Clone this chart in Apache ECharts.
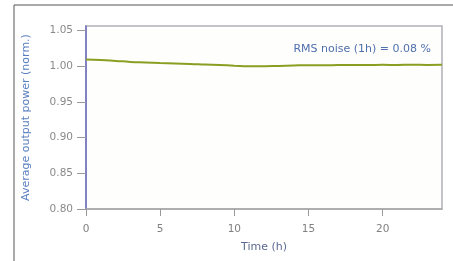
<!DOCTYPE html>
<html>
<head>
<meta charset="utf-8">
<script src="https://cdn.jsdelivr.net/npm/echarts@6/dist/echarts.min.js"></script>
<style>
  html, body { margin: 0; padding: 0; background: #fff; }
  #chart { width: 453px; height: 261px; }
</style>
</head>
<body>
<div id="chart"></div>
<script>
  // time in hours, normalised average output power
  var timeH = [0, 1, 2, 3, 4, 5, 6, 7, 8, 9, 10, 11, 12, 13, 14, 15, 16, 17, 18, 19, 20, 21, 22, 23, 24]
  var power = [1.0092, 1.0085, 1.0072, 1.0058, 1.0050, 1.0042, 1.0035, 1.0030, 1.0022, 1.0014, 1.0005, 0.9998, 0.9997, 1.0002, 1.0008, 1.0012, 1.0010, 1.0014, 1.0016, 1.0013, 1.0017, 1.0015, 1.0018, 1.0016, 1.0018]
  var xTicks = [0, 5, 10, 15, 20]
  var yTicks = [0.80, 0.85, 0.90, 0.95, 1.00, 1.05]
  var noteText = 'RMS noise (1h) = 0.08 %'

  var font = 'DejaVu Sans'
  var chart = echarts.init(document.getElementById('chart'))

  chart.setOption({
    animation: false,
    backgroundColor: '#fff',
    grid: {
      left: 86,
      right: 11,
      top: 26,
      bottom: 52,
      show: true,
      borderColor: '#b0b0b8',
      borderWidth: 1.5,
      backgroundColor: '#fefefc'
    },
    graphic: [
      {
        type: 'polyline',
        shape: { points: [[14, 261], [14, 5], [453, 5]] },
        style: { stroke: '#555', lineWidth: 1, fill: null }
      },
      {
        type: 'text',
        right: 22,
        top: 44,
        style: { text: noteText, font: '11px "DejaVu Sans"', fill: '#4f6fae' }
      }
    ],
    xAxis: {
      type: 'value',
      min: 0,
      max: 24,
      interval: 5,
      name: 'Time (h)',
      nameLocation: 'middle',
      nameGap: 33,
      nameTextStyle: { fontFamily: font, fontSize: 11, color: '#5a6a90' },
      axisLine: { show: true, lineStyle: { color: '#a8a8a8', width: 1.5 } },
      axisTick: { show: true, length: 7, customValues: xTicks, lineStyle: { color: '#999' } },
      axisLabel: { customValues: xTicks, fontFamily: font, fontSize: 10.5, color: '#808080', margin: 15 },
      splitLine: { show: false }
    },
    yAxis: {
      type: 'value',
      min: 0.8,
      max: 1.056,
      interval: 0.05,
      name: 'Average output power (norm.)',
      nameLocation: 'middle',
      nameGap: 54,
      nameTextStyle: { fontFamily: font, fontSize: 11, color: '#5a7fc0' },
      axisLine: { show: true, lineStyle: { color: '#6d6dc0', width: 1.5 } },
      axisTick: { show: true, length: 9, customValues: yTicks, lineStyle: { color: '#999' } },
      axisLabel: {
        customValues: yTicks,
        fontFamily: font,
        fontSize: 10.5,
        color: '#8a8a8a',
        margin: 13,
        formatter: function (v) { return v.toFixed(2) }
      },
      splitLine: { show: false }
    },
    series: [{
      type: 'line',
      data: timeH.map(function (t, i) { return [t, power[i]] }),
      showSymbol: false,
      smooth: true,
      lineStyle: { color: '#8a9f22', width: 2 }
    }]
  })
</script>
</body>
</html>
